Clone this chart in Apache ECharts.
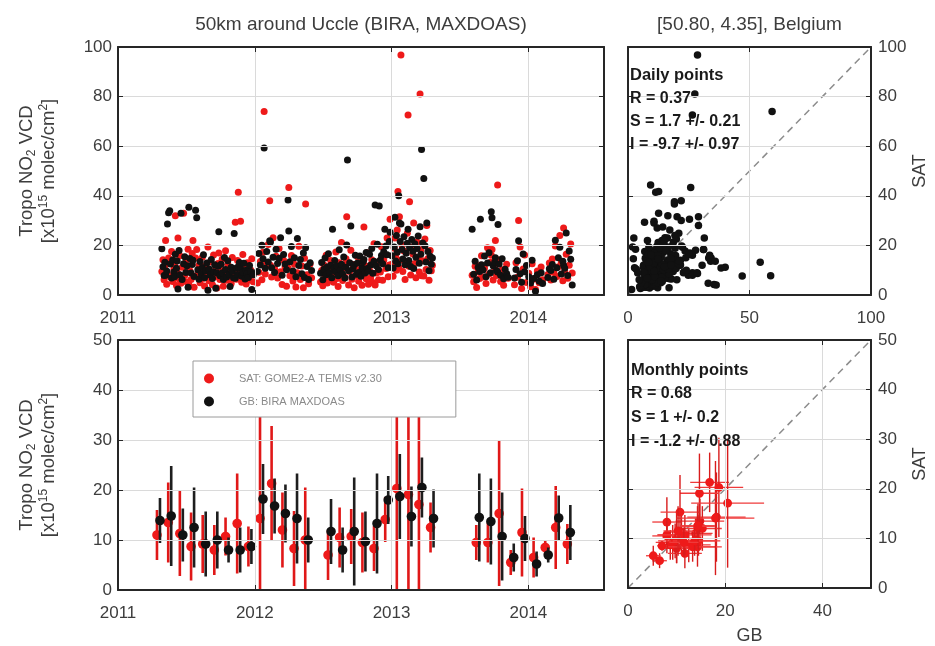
<!DOCTYPE html>
<html>
<head>
<meta charset="utf-8">
<script src="https://cdn.jsdelivr.net/npm/echarts@6.0.0/dist/echarts.min.js"></script>
<style>
  html, body { margin: 0; padding: 0; background: #ffffff; }
  #chart { width: 935px; height: 646px; }
</style>
</head>
<body>
<div id="chart"></div>
<script>
// ---------------------------------------------------------------------------
// Tropospheric NO2 columns around Uccle: GOME2-A (TEMIS v2.30) vs BIRA MAXDOAS
// ---------------------------------------------------------------------------

const SAT_NAME = 'SAT: GOME2-A TEMIS v2.30';
const GB_NAME = 'GB: BIRA MAXDOAS';

const leftTitle = '50km around Uccle (BIRA, MAXDOAS)';
const rightTitle = '[50.80, 4.35], Belgium';

const dailyStats = ['Daily points', 'R = 0.37', 'S = 1.7 +/- 0.21', 'I = -9.7 +/- 0.97'];
const monthlyStats = ['Monthly points', 'R = 0.68', 'S = 1 +/- 0.2', 'I = -1.2 +/- 0.88'];

// axis ranges and tick steps
const yearTicks = [2011, 2012, 2013, 2014];
const yearMin = 2011, yearMax = 2014.553;
const dailyMax = 100, dailyStep = 20, dailyXStep = 50;
const monthlyMax = 50, monthlyStep = 10, monthlyXStep = 20;

// ---- daily coincident observations ----
const dailyDate = [
  '2011-04-28',
  '2011-05-01','2011-05-04','2011-05-06','2011-05-08','2011-05-11','2011-05-13','2011-05-16','2011-05-19','2011-05-21','2011-05-24','2011-05-27','2011-05-30',
  '2011-06-01','2011-06-03','2011-06-06','2011-06-08','2011-06-10','2011-06-13','2011-06-15','2011-06-18','2011-06-21','2011-06-25','2011-06-28',
  '2011-07-01','2011-07-04','2011-07-07','2011-07-09','2011-07-12','2011-07-15','2011-07-18','2011-07-20','2011-07-23','2011-07-27','2011-07-30',
  '2011-08-02','2011-08-05','2011-08-08','2011-08-11','2011-08-14','2011-08-17','2011-08-20','2011-08-23','2011-08-26','2011-08-29',
  '2011-09-01','2011-09-04','2011-09-07','2011-09-10','2011-09-13','2011-09-16','2011-09-19','2011-09-22','2011-09-25','2011-09-27','2011-09-30',
  '2011-10-03','2011-10-06','2011-10-09','2011-10-12','2011-10-15','2011-10-18','2011-10-21','2011-10-24','2011-10-27','2011-10-30',
  '2011-11-02','2011-11-05','2011-11-07','2011-11-10','2011-11-13','2011-11-16','2011-11-18','2011-11-21','2011-11-24','2011-11-27','2011-11-30',
  '2011-12-03','2011-12-06','2011-12-09','2011-12-12','2011-12-15','2011-12-18','2011-12-21','2011-12-24','2011-12-28',
  '2012-01-08','2012-01-12','2012-01-16','2012-01-20','2012-01-23','2012-01-26','2012-01-29',
  '2012-02-02','2012-02-06','2012-02-10','2012-02-12','2012-02-15','2012-02-19','2012-02-23','2012-02-27',
  '2012-03-02','2012-03-06','2012-03-10','2012-03-14','2012-03-18','2012-03-22','2012-03-26','2012-03-30',
  '2012-04-01','2012-04-04','2012-04-08','2012-04-12','2012-04-16','2012-04-20','2012-04-24','2012-04-28',
  '2012-05-02','2012-05-06','2012-05-10','2012-05-13','2012-05-16','2012-05-20','2012-05-24','2012-05-28',
  '2012-06-01',
  '2012-06-25','2012-06-28',
  '2012-07-01','2012-07-04','2012-07-07','2012-07-10','2012-07-13','2012-07-16','2012-07-19','2012-07-22','2012-07-25','2012-07-27','2012-07-30',
  '2012-08-02','2012-08-05','2012-08-08','2012-08-11','2012-08-14','2012-08-17','2012-08-20','2012-08-23','2012-08-26','2012-08-29',
  '2012-09-01','2012-09-03','2012-09-05','2012-09-08','2012-09-11','2012-09-14','2012-09-17','2012-09-20','2012-09-23','2012-09-26','2012-09-29',
  '2012-10-02','2012-10-05','2012-10-08','2012-10-11','2012-10-14','2012-10-17','2012-10-19','2012-10-22','2012-10-25','2012-10-28','2012-10-31',
  '2012-11-03','2012-11-06','2012-11-09','2012-11-12','2012-11-15','2012-11-18','2012-11-21','2012-11-24','2012-11-27','2012-11-29',
  '2012-12-02','2012-12-05','2012-12-08','2012-12-11','2012-12-14','2012-12-17','2012-12-20','2012-12-23','2012-12-26','2012-12-28',
  '2013-01-02','2013-01-05','2013-01-08','2013-01-10','2013-01-12','2013-01-14','2013-01-16','2013-01-18','2013-01-20','2013-01-22','2013-01-24','2013-01-26','2013-01-29','2013-01-31',
  '2013-02-03','2013-02-06','2013-02-09','2013-02-12','2013-02-14','2013-02-16','2013-02-18','2013-02-21','2013-02-24','2013-02-27',
  '2013-03-01','2013-03-04','2013-03-07','2013-03-10','2013-03-13','2013-03-16','2013-03-18','2013-03-20','2013-03-22','2013-03-25','2013-03-28','2013-03-31',
  '2013-04-03','2013-04-05','2013-04-08','2013-04-11','2013-04-14','2013-04-17','2013-04-20',
  '2013-08-04','2013-08-08','2013-08-12','2013-08-16','2013-08-20','2013-08-24','2013-08-26','2013-08-29',
  '2013-09-02','2013-09-06','2013-09-10','2013-09-14','2013-09-18','2013-09-22','2013-09-24','2013-09-26','2013-09-29',
  '2013-10-03','2013-10-05','2013-10-08','2013-10-11','2013-10-12','2013-10-15','2013-10-19','2013-10-23','2013-10-27','2013-10-31',
  '2013-11-04','2013-11-08',
  '2013-11-25','2013-11-29',
  '2013-12-03','2013-12-06','2013-12-10','2013-12-14','2013-12-18','2013-12-22','2013-12-27',
  '2014-01-02','2014-01-07','2014-01-11','2014-01-15','2014-01-20','2014-01-25','2014-01-30',
  '2014-02-04','2014-02-08',
  '2014-02-22','2014-02-26',
  '2014-03-02','2014-03-06','2014-03-10','2014-03-14','2014-03-18','2014-03-22','2014-03-26','2014-03-30',
  '2014-04-03','2014-04-05','2014-04-08','2014-04-12','2014-04-16','2014-04-20','2014-04-24','2014-04-28'
];

// satellite (SAT) tropospheric NO2 VCD, 1e15 molec/cm2
const dailySat = [
  9.5,
  14.2, 6.1, 11.8, 22.0, 4.3, 8.7, 14.9, 13.6, 7.2, 17.5, 5.4, 10.3,
  12.6, 32.0, 3.8, 9.1, 23.0, 6.5, 15.8, 4.7, 11.2, 33.0, 7.9,
  13.1, 5.2, 18.4, 4.2, 9.8, 6.3, 16.7, 22.0, 3.1, 14.9, 18.3,
  8.4, 12.0, 4.9, 10.6, 15.2, 6.8, 3.6, 11.9, 8.1, 19.4,
  5.7, 13.3, 9.2, 4.1, 16.1, 7.4, 11.0, 2.8, 12.7, 16.9, 6.2,
  9.9, 14.4, 3.5, 8.3, 17.8, 5.9, 12.2, 7.1, 10.4, 4.6,
  15.1, 8.8, 8.0, 29.3, 6.4, 13.9, 41.4, 9.6, 29.7, 5.1, 16.3,
  7.7, 11.5, 4.4, 13.0, 8.6, 6.0, 10.1, 14.6, 5.3,
  4.8, 9.2, 13.5, 6.1, 17.2, 74.0, 8.5,
  12.9, 20.4, 38.0, 12.0, 7.3, 23.1, 10.6, 15.6,
  6.9, 18.8, 9.4, 4.2, 14.0, 11.3, 3.5, 10.9,
  43.3, 7.8, 15.9, 5.6, 12.4, 3.2, 9.0, 19.7,
  6.3, 11.7, 2.9, 14.8, 36.7, 8.2, 4.5, 12.5,
  7.0,
  5.2, 9.9,
  3.7, 12.1, 7.5, 16.0, 4.8, 10.2, 6.0, 13.9, 8.6, 9.0, 5.1,
  11.4, 17.3, 6.7, 3.4, 13.0, 8.0, 21.2, 5.8, 10.8, 7.2,
  14.6, 31.6, 13.2, 4.0, 9.5, 18.0, 6.4, 12.3, 2.9, 11.1, 7.9,
  15.4, 5.5, 9.7, 13.5, 3.9, 8.4, 27.4, 11.9, 6.6, 17.0, 4.3,
  10.0, 7.0, 14.2, 5.0, 20.7, 4.0, 8.9, 12.8, 6.1, 13.6,
  9.3, 19.5, 5.9, 14.0, 16.0, 10.7, 23.0, 7.4, 12.1, 30.5,
  12.4, 7.6, 18.9, 23.0, 15.3, 10.0, 26.2, 41.7, 11.2, 31.6, 14.0, 96.8, 20.1, 9.5,
  17.7, 6.2, 13.4, 24.9, 72.6, 11.6, 37.6, 8.1, 19.3, 16.5,
  29.0, 12.7, 7.0, 21.4, 15.0, 9.3, 81.0, 18.2, 7.8, 13.8, 7.7, 22.6,
  10.3, 28.0, 14.7, 5.9, 17.9, 9.8, 12.0,
  8.0, 5.3, 11.6, 3.0, 9.4, 6.7, 12.0, 15.8,
  7.3, 10.9, 4.6, 19.1, 8.5, 13.2, 16.0, 18.3, 6.0,
  11.0, 22.0, 7.9, 44.4, 9.0, 14.1, 5.4, 10.2, 3.9, 8.6,
  12.4, 6.8,
  4.1, 13.0,
  7.2, 30.0, 19.4, 2.6, 10.5, 16.1, 5.0,
  8.8, 3.3, 12.6, 6.4, 2.2, 9.7, 4.9,
  11.3, 6.1,
  8.3, 12.9,
  6.0, 14.5, 9.1, 19.8, 7.5, 11.4, 24.0, 13.2,
  5.7, 27.0, 9.6, 16.4, 6.8, 12.0, 20.6, 8.9
];

// ground-based (GB) MAXDOAS tropospheric NO2 VCD, 1e15 molec/cm2
const dailyGb = [
  18.6,
  11.4, 7.9, 13.2, 8.0, 9.7, 28.6, 33.2, 34.0, 12.5, 6.9, 14.1, 9.3,
  7.4, 16.4, 10.8, 13.7, 2.4, 17.9, 8.2, 33.0, 6.3, 12.6, 15.4,
  9.1, 11.8, 3.1, 35.4, 14.7, 8.9, 12.3, 14.0, 7.5, 34.2, 31.1,
  10.2, 6.4, 13.5, 8.6, 11.1, 16.2, 7.0, 9.8, 12.9, 1.9,
  10.5, 8.1, 14.3, 6.7, 9.4, 12.2, 2.7, 8.9, 11.6, 25.5, 7.8,
  12.4, 9.0, 6.2, 15.1, 10.3, 7.3, 13.8, 8.4, 3.4, 11.2,
  9.6, 7.0, 24.8, 6.8, 10.9, 8.3, 11.4, 13.1, 10.7, 7.6, 9.2,
  12.8, 6.5, 10.0, 8.7, 7.1, 11.9, 9.5, 2.2, 8.2,
  9.5, 16.7, 12.1, 20.1, 14.6, 59.3, 10.8,
  17.5, 13.3, 21.9, 21.4, 11.0, 15.2, 9.1, 18.4,
  12.7, 14.8, 23.1, 8.0, 16.3, 12.5, 10.2, 38.3,
  25.8, 13.4, 19.6, 9.7, 15.0, 7.4, 22.8, 11.9,
  14.3, 8.6, 16.9, 7.1, 19.1, 11.5, 6.2, 13.0,
  9.9,
  8.8, 13.1,
  6.1, 10.4, 14.9, 8.2, 11.3, 16.6, 9.0, 12.0, 7.0, 26.5, 10.6,
  13.9, 9.4, 11.7, 7.8, 18.2, 10.1, 12.4, 8.5, 15.3, 6.9,
  11.2, 20.2, 54.4, 9.8, 13.0, 27.8, 7.3, 10.6, 12.2, 16.0, 8.4,
  12.9, 9.1, 15.7, 7.6, 11.0, 13.4, 14.3, 8.9, 17.1, 10.7, 9.6,
  16.4, 12.1, 18.8, 8.8, 13.6, 36.3, 11.8, 20.5, 10.3, 35.9,
  14.1, 15.9, 12.6, 17.4, 26.5, 19.8, 16.2, 11.0, 21.6, 25.3,
  15.8, 10.9, 19.4, 31.4, 13.7, 24.0, 17.2, 12.6, 40.0, 29.0, 21.6, 28.6, 18.3, 14.5,
  23.5, 12.2, 16.8, 20.9, 26.5, 13.9, 19.1, 11.5, 22.4, 17.6,
  10.7, 20.7, 15.2, 18.7, 23.8, 12.8, 27.5, 16.4, 58.7, 21.0, 47.0, 19.9,
  13.3, 29.0, 17.5, 9.8, 15.6, 12.4, 14.9,
  26.5, 8.4, 13.6, 6.0, 11.2, 9.5, 30.5, 12.2,
  10.1, 15.7, 7.4, 12.9, 17.0, 9.0, 33.6, 31.1, 11.8,
  13.2, 15.0, 9.9, 9.3, 28.4, 12.5, 8.0, 14.6, 6.6, 10.4,
  8.7, 7.2,
  6.9, 10.3,
  13.8, 21.9, 8.6, 5.1, 16.5, 9.4, 11.9,
  7.4, 4.8, 14.0, 6.7, 1.5, 8.2, 5.5,
  9.0, 4.6,
  7.1, 10.6,
  9.9, 12.3, 6.4, 22.1, 11.0, 15.0, 19.3, 8.5,
  13.6, 12.0, 10.8, 25.0, 7.9, 17.7, 14.4, 4.0
];

// ---- monthly means ----
const monthLabel = [
  '2011-04','2011-05','2011-06','2011-07','2011-08','2011-09','2011-10','2011-11','2011-12',
  '2012-01','2012-02','2012-03','2012-04','2012-05','2012-07','2012-08','2012-09','2012-10','2012-11','2012-12',
  '2013-01','2013-02','2013-03','2013-04','2013-08','2013-09','2013-10','2013-11','2013-12',
  '2014-01','2014-02','2014-03','2014-04'
];
const monthSat = [
  11.0, 13.5, 11.3, 8.7, 9.2, 8.0, 10.7, 13.3, 8.7,
  14.3, 21.3, 12.0, 8.3, 10.0, 7.0, 10.5, 10.7, 9.5, 8.3, 14.1,
  20.3, 19.1, 17.1, 12.5, 9.5, 9.5, 15.3, 5.5, 11.5,
  6.5, 8.5, 12.5, 9.2
];
const monthSatSpread = [
  5.0, 8.0, 8.5, 6.8, 5.8, 5.0, 3.8, 10.0, 4.0,
  24.0, 11.5, 7.5, 7.5, 10.5, 5.0, 6.0, 5.5, 6.0, 4.5, 4.5,
  24.0, 23.0, 22.0, 5.0, 3.5, 4.0, 14.5, 2.5, 8.8,
  4.0, 1.5, 8.3, 4.0
];
const monthGb = [
  13.9, 14.8, 11.0, 12.5, 9.2, 10.0, 8.0, 8.0, 8.7,
  18.2, 16.8, 15.3, 14.3, 10.0, 11.7, 8.0, 11.7, 9.7, 13.3, 18.0,
  18.7, 14.7, 20.5, 14.3, 14.5, 13.7, 10.7, 6.5, 10.3,
  5.2, 7.0, 14.4, 11.5
];
const monthGbSpread = [
  4.5, 10.0, 5.3, 8.0, 6.5, 5.7, 2.5, 4.5, 3.5,
  7.0, 5.5, 5.8, 9.0, 4.5, 6.5, 4.5, 10.8, 6.0, 10.0, 4.8,
  8.5, 6.0, 6.0, 5.8, 8.8, 8.6, 8.8, 2.8, 4.5,
  2.5, 1.5, 4.5, 5.5
];
// uncertainties shown on the monthly GB-vs-SAT comparison
const monthSatErr = [
  3.0, 4.5, 4.0, 3.5, 3.5, 3.0, 2.5, 5.0, 3.0,
  9.0, 6.0, 4.5, 4.0, 5.0, 3.0, 3.5, 4.0, 3.5, 3.0, 11.5,
  10.0, 8.0, 13.0, 4.0, 3.0, 3.0, 7.5, 1.5, 5.0,
  2.0, 1.0, 4.5, 3.0
];
const monthGbErr = [
  3.5, 5.0, 3.0, 4.5, 3.5, 3.0, 2.0, 3.0, 2.5,
  6.0, 4.0, 4.0, 5.0, 3.0, 3.5, 3.0, 5.5, 3.5, 5.0, 8.0,
  5.0, 4.0, 7.5, 3.5, 4.5, 4.5, 4.0, 1.5, 3.0,
  1.5, 1.0, 3.5, 3.0
];

// ---------------------------------------------------------------------------
const FONT = '"Liberation Sans", Arial, Helvetica, sans-serif';
const FRAME = '#262626';
const LABEL = '#3d3d3d';
const GRIDLINE = '#dadada';
const RED = '#ee1a1a';
const BLACK = '#111111';

// decimal year from 'YYYY-MM-DD' (or 'YYYY-MM', taken at mid-month)
function decYear(s) {
  const p = s.split('-').map(Number);
  const y = p[0], m = p[1], d = p.length > 2 ? p[2] : 15;
  const t0 = Date.UTC(y, 0, 1), t1 = Date.UTC(y + 1, 0, 1);
  return y + (Date.UTC(y, m - 1, d) - t0) / (t1 - t0);
}

const dailyYear = dailyDate.map(decYear);
const monthYear = monthLabel.map(decYear);

// framed value axis with inward ticks (labels optional)
function axis(extra) {
  const base = {
    type: 'value',
    axisLine: { show: true, onZero: false, lineStyle: { color: FRAME, width: 2 } },
    axisTick: { show: true, inside: true, length: 5, lineStyle: { color: FRAME, width: 1 } },
    axisLabel: { show: false },
    splitLine: { show: false },
    z: 5
  };
  return Object.assign(base, extra);
}
function labels(extra) {
  return Object.assign({ show: true, color: LABEL, fontSize: 17, fontFamily: FONT }, extra);
}
const split = { show: true, lineStyle: { color: GRIDLINE, width: 1 } };

const nameRich = {
  a: { fontSize: 18.5, fontFamily: FONT, color: LABEL, lineHeight: 22 },
  sub: { fontSize: 12, fontFamily: FONT, color: LABEL, lineHeight: 13, verticalAlign: 'bottom' },
  sup: { fontSize: 12, fontFamily: FONT, color: LABEL, lineHeight: 13, verticalAlign: 'top' }
};
const vcdName = '{a|Tropo NO}{sub|2}{a| VCD}\n{a|[x10}{sup|15}{a| molec/cm}{sup|2}{a|]}';

const grids = [
  { left: 118, top: 47, width: 486, height: 248 },
  { left: 118, top: 340, width: 486, height: 250 },
  { left: 628, top: 47, width: 243, height: 248 },
  { left: 628, top: 340, width: 243, height: 250 }
];

const yearFmt = v => (yearTicks.indexOf(v) >= 0 ? String(v) : '');

const xAxes = [
  axis({ gridIndex: 0, position: 'bottom', min: yearMin, max: yearMax, interval: 1,
         axisLabel: labels({ margin: 15, formatter: yearFmt, showMaxLabel: false }), splitLine: split }),
  axis({ gridIndex: 0, position: 'top', min: yearMin, max: yearMax, interval: 1 }),
  axis({ gridIndex: 1, position: 'bottom', min: yearMin, max: yearMax, interval: 1,
         axisLabel: labels({ margin: 15, formatter: yearFmt, showMaxLabel: false }), splitLine: split }),
  axis({ gridIndex: 1, position: 'top', min: yearMin, max: yearMax, interval: 1 }),
  axis({ gridIndex: 2, position: 'bottom', min: 0, max: dailyMax, interval: dailyXStep,
         axisLabel: labels({ margin: 15 }), splitLine: split }),
  axis({ gridIndex: 2, position: 'top', min: 0, max: dailyMax, interval: dailyXStep }),
  axis({ gridIndex: 3, position: 'bottom', min: 0, max: monthlyMax, interval: monthlyXStep,
         axisLabel: labels({ margin: 15, showMaxLabel: false }), splitLine: split,
         name: 'GB', nameLocation: 'middle', nameGap: 39,
         nameTextStyle: { fontSize: 18, fontFamily: FONT, color: LABEL } }),
  axis({ gridIndex: 3, position: 'top', min: 0, max: monthlyMax, interval: monthlyXStep })
];

const yAxes = [
  axis({ gridIndex: 0, position: 'left', min: 0, max: dailyMax, interval: dailyStep,
         axisLabel: labels({ margin: 6 }), splitLine: split,
         name: vcdName, nameLocation: 'middle', nameGap: 58, nameRotate: 90,
         nameTextStyle: { rich: nameRich, align: 'center' } }),
  axis({ gridIndex: 0, position: 'right', min: 0, max: dailyMax, interval: dailyStep }),
  axis({ gridIndex: 1, position: 'left', min: 0, max: monthlyMax, interval: monthlyStep,
         axisLabel: labels({ margin: 6 }), splitLine: split,
         name: vcdName, nameLocation: 'middle', nameGap: 58, nameRotate: 90,
         nameTextStyle: { rich: nameRich, align: 'center' } }),
  axis({ gridIndex: 1, position: 'right', min: 0, max: monthlyMax, interval: monthlyStep }),
  axis({ gridIndex: 2, position: 'right', min: 0, max: dailyMax, interval: dailyStep,
         axisLabel: labels({ margin: 7 }), splitLine: split,
         name: 'SAT', nameLocation: 'middle', nameGap: 40, nameRotate: 90,
         nameTextStyle: { fontSize: 18, fontFamily: FONT, color: LABEL } }),
  axis({ gridIndex: 2, position: 'left', min: 0, max: dailyMax, interval: dailyStep }),
  axis({ gridIndex: 3, position: 'right', min: 0, max: monthlyMax, interval: monthlyStep,
         axisLabel: labels({ margin: 7 }), splitLine: split,
         name: 'SAT', nameLocation: 'middle', nameGap: 40, nameRotate: 90,
         nameTextStyle: { fontSize: 18, fontFamily: FONT, color: LABEL } }),
  axis({ gridIndex: 3, position: 'left', min: 0, max: monthlyMax, interval: monthlyStep })
];

// clamp a pixel y / x into the plotting rectangle
function clampY(v, cs) { return Math.max(cs.y, Math.min(cs.y + cs.height, v)); }
function clampX(v, cs) { return Math.max(cs.x, Math.min(cs.x + cs.width, v)); }

// monthly time series: vertical spread bar + filled marker
function seriesBars(color, barColor, shiftPx) {
  return function (params, api) {
    const cs = params.coordSys;
    const t = api.value(0), v = api.value(1), e = api.value(2);
    const c = api.coord([t, v]);
    const lo = api.coord([t, v - e]);
    const hi = api.coord([t, v + e]);
    const x = c[0] + shiftPx;
    return {
      type: 'group',
      children: [
        { type: 'line',
          shape: { x1: x, y1: clampY(lo[1], cs), x2: x, y2: clampY(hi[1], cs) },
          style: { stroke: barColor, lineWidth: 2.6 } },
        { type: 'circle', shape: { cx: x, cy: c[1], r: 4.8 }, style: { fill: color } }
      ]
    };
  };
}

// monthly GB vs SAT: horizontal and vertical bars + marker
function crossBars(params, api) {
  const cs = params.coordSys;
  const gx = api.value(0), sy = api.value(1), eg = api.value(2), es = api.value(3);
  const c = api.coord([gx, sy]);
  const l = api.coord([gx - eg, sy]), r = api.coord([gx + eg, sy]);
  const b = api.coord([gx, sy - es]), t = api.coord([gx, sy + es]);
  return {
    type: 'group',
    children: [
      { type: 'line', shape: { x1: clampX(l[0], cs), y1: c[1], x2: clampX(r[0], cs), y2: c[1] },
        style: { stroke: '#ef3a3a', lineWidth: 1.3 } },
      { type: 'line', shape: { x1: c[0], y1: clampY(b[1], cs), x2: c[0], y2: clampY(t[1], cs) },
        style: { stroke: '#d81c1c', lineWidth: 1.4 } },
      { type: 'circle', shape: { cx: c[0], cy: c[1], r: 4.4 }, style: { fill: RED } }
    ]
  };
}

const dot = color => ({ color: color, opacity: 1 });

const series = [
  // daily time series
  { name: 'SAT daily', type: 'scatter', xAxisIndex: 0, yAxisIndex: 0, symbolSize: 7,
    itemStyle: dot(RED), silent: true, z: 2,
    data: dailyYear.map((t, i) => [t, dailySat[i]]) },
  { name: 'GB daily', type: 'scatter', xAxisIndex: 0, yAxisIndex: 0, symbolSize: 7,
    itemStyle: dot(BLACK), silent: true, z: 3,
    data: dailyYear.map((t, i) => [t, dailyGb[i]]) },

  // daily GB vs SAT
  { name: '1:1 daily', type: 'line', xAxisIndex: 4, yAxisIndex: 4, symbol: 'none', silent: true, z: 2,
    lineStyle: { color: '#8c8c8c', width: 1.5, type: [7, 5] },
    data: [[0, 0], [dailyMax, dailyMax]] },
  { name: 'daily pairs', type: 'scatter', xAxisIndex: 4, yAxisIndex: 4, symbolSize: 7.5,
    itemStyle: dot(BLACK), silent: true, z: 3,
    data: dailyGb.map((g, i) => [g, dailySat[i]]) },

  // monthly time series
  { name: SAT_NAME, type: 'custom', xAxisIndex: 2, yAxisIndex: 2, itemStyle: { color: RED },
    renderItem: seriesBars(RED, '#e01818', 0), clip: true, silent: true, z: 2,
    data: monthYear.map((t, i) => [t, monthSat[i], monthSatSpread[i]]) },
  { name: GB_NAME, type: 'custom', xAxisIndex: 2, yAxisIndex: 2, itemStyle: { color: BLACK },
    renderItem: seriesBars(BLACK, '#1e1e1e', 3), clip: true, silent: true, z: 3,
    data: monthYear.map((t, i) => [t, monthGb[i], monthGbSpread[i]]) },

  // monthly GB vs SAT
  { name: '1:1 monthly', type: 'line', xAxisIndex: 6, yAxisIndex: 6, symbol: 'none', silent: true, z: 2,
    lineStyle: { color: '#8c8c8c', width: 1.5, type: [7, 5] },
    data: [[0, 0], [monthlyMax, monthlyMax]] },
  { name: 'monthly pairs', type: 'custom', xAxisIndex: 6, yAxisIndex: 6, itemStyle: { color: RED },
    renderItem: crossBars, clip: true, silent: true, z: 3,
    data: monthGb.map((g, i) => [g, monthSat[i], monthGbErr[i], monthSatErr[i]]) }
];

// panel titles and regression summaries
function statText(lines, x, y0, step) {
  return lines.map((s, i) => ({
    type: 'text', x: x, y: y0 + i * step, z: 20, silent: true,
    style: { text: s, fill: '#1a1a1a', fontFamily: FONT, fontWeight: 'bold',
             fontSize: i === 0 ? 16.5 : 16, verticalAlign: 'middle', align: 'left' }
  }));
}
const graphics = [
  { type: 'text', x: 361, y: 25, silent: true,
    style: { text: leftTitle, fill: LABEL, fontFamily: FONT, fontSize: 19, align: 'center', verticalAlign: 'middle' } },
  { type: 'text', x: 749.5, y: 25, silent: true,
    style: { text: rightTitle, fill: LABEL, fontFamily: FONT, fontSize: 19, align: 'center', verticalAlign: 'middle' } }
].concat(statText(dailyStats, 630, 75, 23.3), statText(monthlyStats, 631, 370, 24));

const chart = echarts.init(document.getElementById('chart'), null, { renderer: 'canvas' });
chart.setOption({
  animation: false,
  backgroundColor: '#ffffff',
  textStyle: { fontFamily: FONT },
  grid: grids,
  xAxis: xAxes,
  yAxis: yAxes,
  legend: {
    data: [SAT_NAME, GB_NAME],
    orient: 'vertical', left: 193, top: 361,
    icon: 'circle', itemWidth: 50, itemHeight: 10, itemGap: 12,
    padding: [12, 74, 10, 11],
    backgroundColor: '#ffffff', borderColor: '#9a9a9a', borderWidth: 1,
    textStyle: { fontSize: 11, color: '#8a8a8a', fontFamily: FONT },
    selectedMode: false, z: 10
  },
  graphic: graphics,
  series: series
});
</script>
</body>
</html>
